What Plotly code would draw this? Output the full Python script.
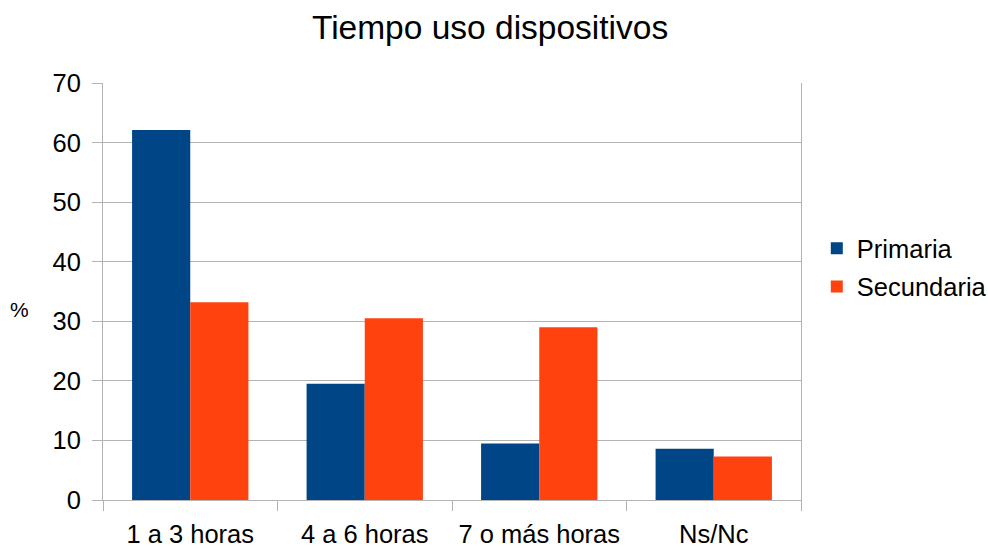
import plotly.graph_objects as go

categories = ["1 a 3 horas", "4 a 6 horas", "7 o más horas", "Ns/Nc"]
primaria = [62.1, 19.5, 9.5, 8.6]
secundaria = [33.2, 30.5, 29.0, 7.3]
y_ticks = [0, 10, 20, 30, 40, 50, 60, 70]

FONT = "Liberation Sans, Arial, sans-serif"
GRID = "#b3b3b3"

fig = go.Figure()
fig.add_trace(go.Bar(name="Primaria", x=categories, y=primaria,
                     marker=dict(color="#004586", line=dict(width=0)),
                     legendgroup="a"))
fig.add_trace(go.Bar(name="Secundaria", x=categories, y=secundaria,
                     marker=dict(color="#ff420e", line=dict(width=0)),
                     legendgroup="b"))

fig.update_layout(
    width=988, height=549,
    margin=dict(l=102.7, r=187.3, t=83.3, b=49, pad=0, autoexpand=False),
    paper_bgcolor="white", plot_bgcolor="white",
    barmode="group", bargap=1/3, bargroupgap=0,
    font=dict(family=FONT, size=26, color="black"),
    title=dict(text="Tiempo uso dispositivos", x=0.496, xref="container",
               xanchor="center", y=1 - 27/549, yref="container", yanchor="middle",
               font=dict(size=33.5, family=FONT, color="black")),
    legend=dict(x=(816.5 - 102.7) / 698, xanchor="left", y=0.557, yanchor="middle",
                font=dict(size=25.5, family=FONT, color="black"),
                tracegroupgap=2, bgcolor="rgba(0,0,0,0)"),
    showlegend=True,
)
fig.update_xaxes(showline=True, linecolor=GRID, linewidth=1,
                 ticks="outside", ticklen=10, tickcolor=GRID, tickwidth=1,
                 tickson="boundaries", showgrid=False, mirror=False,
                 ticklabelstandoff=11,
                 tickfont=dict(size=25.5, family=FONT, color="black"))
fig.update_yaxes(range=[0, 70], tickvals=y_ticks, showline=True, linecolor=GRID,
                 linewidth=1, mirror=True, ticks="outside", ticklen=10,
                 tickcolor=GRID, tickwidth=1, showgrid=True, gridcolor=GRID,
                 gridwidth=1, zeroline=False, ticklabelstandoff=6,
                 tickfont=dict(size=25.5, family=FONT, color="black"))
fig.add_annotation(text="%", xref="paper", yref="paper",
                   x=(19 - 102.7) / 698, y=(500 - 310) / 416.7,
                   xanchor="center", yanchor="middle", showarrow=False,
                   font=dict(size=21, family=FONT, color="black"))

fig.write_html("out.html", post_script="document.body.style.margin='0';",
               config={"displayModeBar": False})
